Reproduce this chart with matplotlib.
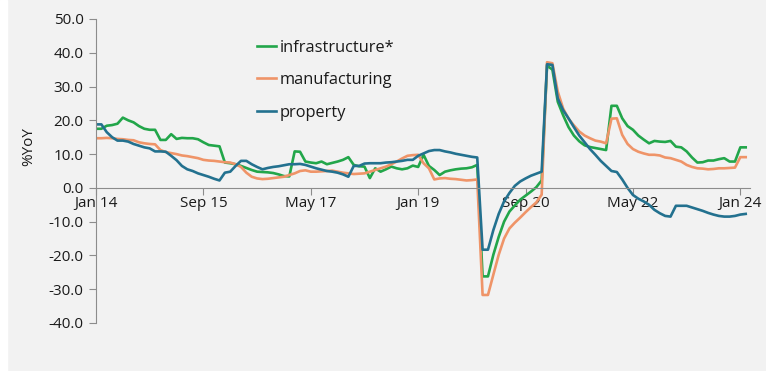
import numpy as np
import pandas as pd
import matplotlib
matplotlib.use("Agg")
import matplotlib.pyplot as plt

plt.rcParams['font.family'] = ['Open Sans', 'DejaVu Sans']

dates = pd.date_range("2014-01-01", periods=122, freq="MS")

infrastructure = [
    17.5, 17.5, 18.4, 18.6, 19.0, 20.8, 20.0, 19.4, 18.3, 17.5,
    17.2, 17.2, 14.2, 14.2, 15.9, 14.5, 14.8, 14.7, 14.7, 14.4,
    13.5, 12.7, 12.5, 12.3, 7.5, 7.3, 7.0, 6.5, 5.9, 5.3,
    4.8, 4.7, 4.6, 4.4, 4.0, 3.5, 3.4, 10.8, 10.7, 7.8,
    7.5, 7.3, 7.8, 7.0, 7.4, 7.8, 8.3, 9.1, 6.8, 6.4,
    6.3, 2.9, 5.8, 4.8, 5.5, 6.3, 5.8, 5.5, 5.8, 6.6,
    6.2, 9.8, 6.5, 5.3, 3.8, 4.8, 5.2, 5.5, 5.7, 5.8,
    6.1, 6.8, -26.2, -26.2, -19.8, -14.5, -10.0, -7.0, -5.2, -3.5,
    -2.3, -1.1, 0.2, 2.2, 36.2, 35.0, 25.5, 21.5, 18.0, 15.5,
    13.8, 12.6, 12.1, 11.8, 11.5, 11.2, 24.3, 24.3, 20.6, 18.3,
    17.2, 15.5, 14.3, 13.2, 13.9, 13.7, 13.6, 13.9, 12.2, 12.0,
    10.8, 9.0, 7.5, 7.6, 8.1, 8.1, 8.5, 8.8, 7.8, 7.8,
    12.0, 12.0,
]

manufacturing = [
    14.7, 14.7, 14.8, 14.7, 14.5, 14.4, 14.2, 14.1, 13.5, 13.2,
    13.0, 12.9, 11.2, 10.6, 10.3, 10.0, 9.6, 9.4, 9.1, 8.8,
    8.3, 8.1, 8.0, 7.8, 7.6, 7.5, 7.0, 6.2, 4.5, 3.3,
    2.8, 2.6, 2.7, 2.9, 3.1, 3.3, 3.8, 4.3, 5.0, 5.2,
    4.8, 4.8, 4.9, 5.0, 5.1, 4.8, 4.5, 4.3, 4.1, 4.2,
    4.3, 4.8, 5.3, 5.8, 6.3, 7.0, 7.8, 8.7, 9.5, 9.7,
    9.8, 7.3, 5.8, 2.5, 2.8, 2.9, 2.7, 2.6, 2.4, 2.2,
    2.3, 2.5, -31.7, -31.7, -25.7, -19.8, -15.0, -12.0, -10.3, -8.8,
    -7.2, -5.7, -4.3, -2.0, 37.2, 36.9, 28.5, 23.5, 20.5, 18.5,
    16.7, 15.5, 14.7, 14.0, 13.7, 13.2, 20.5, 20.6, 15.7, 13.0,
    11.5, 10.7, 10.2, 9.8, 9.8, 9.6, 9.0, 8.8, 8.3, 7.8,
    6.8, 6.2, 5.8, 5.7, 5.5, 5.6, 5.8, 5.8, 5.9, 6.0,
    9.1, 9.1,
]

property_ = [
    18.8, 18.8, 16.5, 15.0, 14.0, 14.0, 13.7, 13.0, 12.5, 12.0,
    11.7, 10.8, 10.8, 10.7, 9.5, 8.2, 6.5, 5.5, 5.0, 4.3,
    3.8, 3.3, 2.7, 2.2, 4.5, 4.8, 6.5, 8.0, 8.0, 7.0,
    6.2, 5.5, 5.9, 6.2, 6.4, 6.7, 7.0, 7.0, 7.1, 6.8,
    6.3, 5.8, 5.4, 5.0, 4.8, 4.5, 4.0, 3.3, 6.5, 6.5,
    7.2, 7.3, 7.3, 7.3, 7.5, 7.6, 7.8, 8.0, 8.3, 8.3,
    9.5, 10.2, 10.9, 11.2, 11.2, 10.8, 10.5, 10.1, 9.8, 9.5,
    9.2, 9.0, -18.3, -18.3, -12.5, -7.7, -4.0, -1.5, 0.6, 1.9,
    2.8, 3.6, 4.2, 4.8, 36.6, 36.4, 26.5, 23.0, 20.6, 18.0,
    15.5, 13.5, 11.5, 9.8, 8.0, 6.5, 5.0, 4.7, 2.5, 0.0,
    -2.1, -3.2, -4.0, -5.0, -6.5, -7.5, -8.3, -8.5, -5.3, -5.3,
    -5.3, -5.8, -6.3, -6.8, -7.4, -7.9, -8.3, -8.5, -8.5, -8.3,
    -7.9, -7.7,
]

tick_labels = ["Jan 14", "Sep 15", "May 17", "Jan 19", "Sep 20", "May 22", "Jan 24"]
y_ticks = [50, 40, 30, 20, 10, 0, -10, -20, -30, -40]

x = np.arange(len(dates))

fig = plt.figure(figsize=(7.66, 3.71), dpi=100, facecolor="#f2f2f2")
fig.patches.append(plt.Rectangle((0, 0), 7 / 766, 1, transform=fig.transFigure,
                                 color="white", zorder=0))
ax = fig.add_axes([96 / 766, 1 - 323 / 371, (750 - 96) / 766, (323 - 19) / 371])
ax.set_facecolor("none")

ax.plot(x, infrastructure, color="#22a64a", lw=1.9, label="infrastructure*")
ax.plot(x, manufacturing, color="#ef9468", lw=1.9, label="manufacturing")
ax.plot(x, property_, color="#23718f", lw=1.9, label="property")

ax.set_ylim(-40, 50)
ax.set_xlim(0, 121.8)
ax.set_yticks(y_ticks)
ax.set_yticklabels([f"{v:.1f}" for v in y_ticks])
tick_pos = [list(dates.strftime("%b %y")).index(t) for t in tick_labels]
ax.set_xticks(tick_pos)
ax.set_xticklabels(tick_labels)

for s in ["top", "right"]:
    ax.spines[s].set_visible(False)
ax.spines["bottom"].set_position(("data", 0))
ax.spines["left"].set_color("#8c8c8c")
ax.spines["bottom"].set_color("#8c8c8c")
ax.tick_params(axis="both", colors="#8c8c8c", labelcolor="#1a1a1a",
               labelsize=11, length=5, width=0.8)
ax.tick_params(axis="y", pad=4)
ax.tick_params(axis="x", pad=1)

ax.set_ylabel("%YoY", fontsize=11, color="#1a1a1a")
ax.yaxis.set_label_coords(-0.092, 0.58)

leg = ax.legend(loc="upper left", bbox_to_anchor=(242 / 766, 1 - 25 / 371),
                bbox_transform=fig.transFigure, frameon=False, fontsize=11.8,
                handlelength=1.2, handletextpad=0.2, labelspacing=1.0)
for t in leg.get_texts():
    t.set_color("#1a1a1a")

fig.savefig("out.png", dpi=100, facecolor=fig.get_facecolor())
